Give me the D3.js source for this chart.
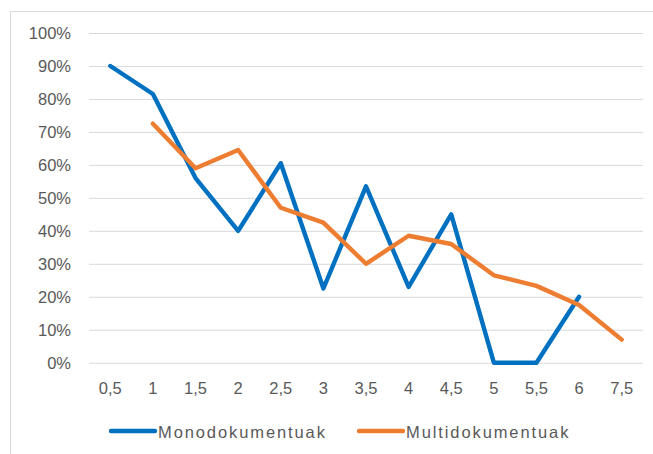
<!DOCTYPE html>
<html>
<head>
<meta charset="utf-8">
<script src="https://cdn.jsdelivr.net/npm/d3@7"></script>
<style>
  html, body { margin: 0; padding: 0; background: #fff; }
  svg text { font-family: "Liberation Sans", Arial, sans-serif; fill: #595959; }
</style>
</head>
<body>
<svg id="chart" width="653" height="454"></svg>
<script>
// Categories along the horizontal axis
const categories = ["0,5", "1", "1,5", "2", "2,5", "3", "3,5", "4", "4,5", "5", "5,5", "6", "7,5"];
// Share per category (percent); null where a series has no value
const monoValues  = [90, 81.5, 56, 40, 60.5, 22.5, 53.5, 23, 45, 0, 0, 20, null];
const multiValues = [null, 72.5, 59, 64.5, 47, 42.5, 30, 38.5, 36, 26.5, 23.3, 17.5, 7];
const seriesNames = ["Monodokumentuak", "Multidokumentuak"];
const seriesColors = ["#0070c0", "#ed7d31"];
const yTicks = [0, 10, 20, 30, 40, 50, 60, 70, 80, 90, 100];

const svg = d3.select("#chart");
const W = 653, H = 454;
const plot = { left: 89, right: 643, top: 33, bottom: 362.7 };

// Outer chart frame
svg.append("rect")
  .attr("x", 10.5).attr("y", 11.5)
  .attr("width", W + 10).attr("height", H + 10)
  .attr("fill", "none").attr("stroke", "#d9d9d9").attr("stroke-width", 1);

const x = d3.scaleBand().domain(categories).range([plot.left, plot.right]);
const y = d3.scaleLinear().domain([0, 100]).range([plot.bottom, plot.top]);

// Horizontal gridlines with percentage labels
const yAxis = d3.axisLeft(y)
  .tickValues(yTicks)
  .tickSize(-(plot.right - plot.left))
  .tickPadding(18)
  .tickFormat(d => d + "%");
const gy = svg.append("g")
  .attr("transform", `translate(${plot.left},0)`)
  .call(yAxis);
gy.select(".domain").remove();
gy.selectAll(".tick line").attr("stroke", "#d9d9d9").attr("stroke-width", 1);
gy.selectAll(".tick text")
  .style("font-size", "16.5px")
  .attr("dy", "0.36em");

// Category labels
const xAxis = d3.axisBottom(x).tickSize(0).tickPadding(20);
const gx = svg.append("g")
  .attr("transform", `translate(0,${plot.bottom})`)
  .call(xAxis);
gx.select(".domain").remove();
gx.selectAll(".tick text").style("font-size", "16.5px");

// Series lines
const line = d3.line()
  .defined(d => d.v !== null)
  .x(d => x(d.c) + x.bandwidth() / 2)
  .y(d => y(d.v));

[monoValues, multiValues].forEach((vals, i) => {
  const data = categories.map((c, j) => ({ c, v: vals[j] }));
  svg.append("path")
    .datum(data)
    .attr("d", line)
    .attr("fill", "none")
    .attr("stroke", seriesColors[i])
    .attr("stroke-width", 4.4)
    .attr("stroke-linejoin", "round")
    .attr("stroke-linecap", "round");
});

// Legend
const legendItems = [
  { name: seriesNames[0], color: seriesColors[0], x0: 111, x1: 155, tx: 158 },
  { name: seriesNames[1], color: seriesColors[1], x0: 359, x1: 403, tx: 406 }
];
const legendY = 431;
const lg = svg.append("g");
legendItems.forEach(it => {
  lg.append("line")
    .attr("x1", it.x0).attr("x2", it.x1)
    .attr("y1", legendY).attr("y2", legendY)
    .attr("stroke", it.color).attr("stroke-width", 4.4)
    .attr("stroke-linecap", "round");
  lg.append("text")
    .attr("x", it.tx).attr("y", legendY + 7)
    .style("font-size", "16.5px")
    .style("letter-spacing", "1.9px")
    .text(it.name);
});
</script>
</body>
</html>
